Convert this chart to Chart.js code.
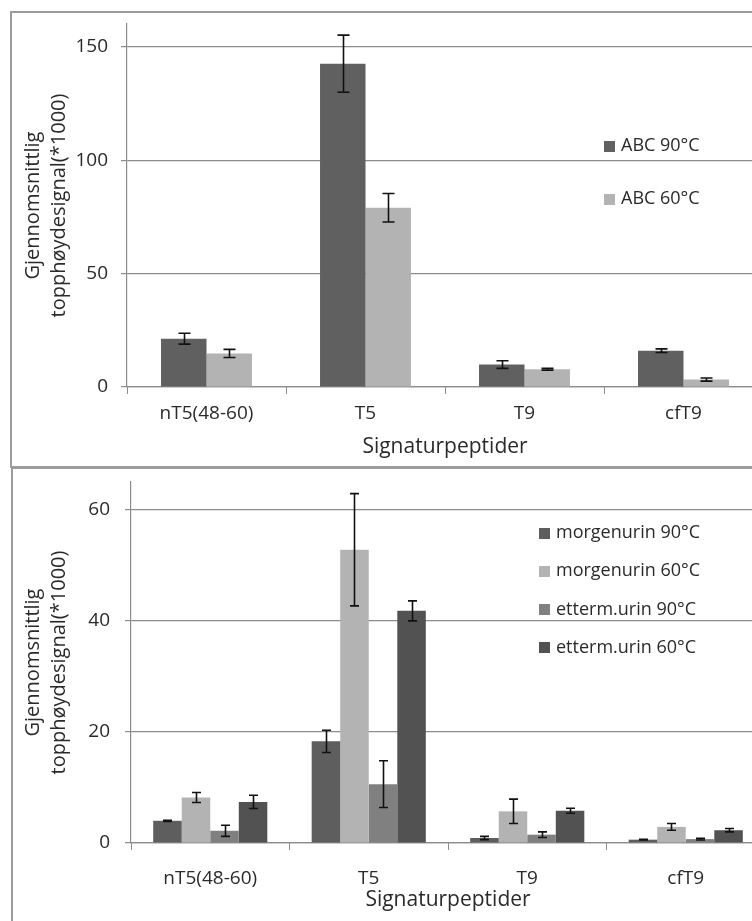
<!DOCTYPE html>
<html>
<head>
<meta charset="utf-8">
<script src="https://cdn.jsdelivr.net/npm/chart.js@4.4.0/dist/chart.umd.min.js"></script>
<style>
  html, body { margin: 0; padding: 0; background: #fff; overflow: hidden; width: 752px; height: 921px; }
  #wrap { position: relative; width: 752px; height: 921px; overflow: hidden; }
  canvas { position: absolute; left: 0; }
  #c1 { top: 0; }
  #c2 { top: 467px; }
  .frame { position: absolute; border: 2px solid #9c9c9c; box-sizing: border-box; pointer-events: none; }
</style>
</head>
<body>
<div id="wrap">
  <canvas id="c1" width="790" height="466"></canvas>
  <canvas id="c2" width="790" height="454"></canvas>
  <div class="frame" style="left:10px;top:11px;width:800px;height:457px"></div>
  <div class="frame" style="left:11px;top:467px;width:800px;height:480px"></div>
</div>
<script>
// Peptides on the category axis
const categories = ['nT5(48-60)', 'T5', 'T9', 'cfT9'];

// Upper panel: ABC buffer, mean peak height (*1000) and standard deviation
const abc90 = [21.3, 142.5, 9.9, 16.0];
const abc90Err = [2.4, 12.6, 1.7, 0.8];
const abc60 = [14.8, 79.0, 7.8, 3.3];
const abc60Err = [1.8, 6.3, 0.4, 0.7];
const upperTicks = [0, 50, 100, 150];

// Lower panel: urine samples
const morgen90 = [4.0, 18.3, 0.9, 0.6];
const morgen90Err = [0.1, 2.0, 0.3, 0.05];
const morgen60 = [8.2, 52.8, 5.7, 2.9];
const morgen60Err = [0.9, 10.1, 2.2, 0.6];
const etterm90 = [2.2, 10.6, 1.5, 0.7];
const etterm90Err = [1.0, 4.2, 0.5, 0.15];
const etterm60 = [7.4, 41.8, 5.8, 2.3];
const etterm60Err = [1.2, 1.8, 0.45, 0.3];
const lowerTicks = [0, 20, 40, 60];

const FONT = "'Open Sans', 'Noto Sans', sans-serif";
const TEXT = '#2a2a2a';
const GRID = '#8c8c8c';

Chart.defaults.font.family = FONT;
Chart.defaults.color = TEXT;

// Standard-deviation whiskers on top of every bar
const errorBars = {
  id: 'errorBars',
  afterDatasetsDraw(chart, args, opts) {
    const ctx = chart.ctx;
    const y = chart.scales.y;
    ctx.save();
    ctx.strokeStyle = opts.color;
    ctx.lineWidth = opts.lineWidth;
    chart.data.datasets.forEach((ds, i) => {
      const meta = chart.getDatasetMeta(i);
      meta.data.forEach((bar, j) => {
        const v = ds.data[j], e = ds.errors[j];
        const x = Math.round(bar.x) + 0.5;
        const yt = y.getPixelForValue(v + e);
        const yb = y.getPixelForValue(Math.max(0, v - e));
        ctx.beginPath();
        ctx.moveTo(x, yt); ctx.lineTo(x, yb);
        ctx.moveTo(x - opts.cap, yt); ctx.lineTo(x + opts.cap, yt);
        ctx.moveTo(x - opts.cap, yb); ctx.lineTo(x + opts.cap, yb);
        ctx.stroke();
      });
    });
    ctx.restore();
  }
};

// Legend placed inside the plot area
const insideLegend = {
  id: 'insideLegend',
  afterDraw(chart, args, opts) {
    const ctx = chart.ctx;
    ctx.save();
    ctx.font = opts.fontSize + 'px ' + FONT;
    ctx.textBaseline = 'middle';
    ctx.textAlign = 'left';
    chart.data.datasets.forEach((ds, i) => {
      const cy = opts.y + i * opts.spacing;
      ctx.fillStyle = ds.backgroundColor;
      ctx.fillRect(opts.x, Math.round(cy - opts.box / 2), opts.box, opts.box);
      ctx.fillStyle = TEXT;
      ctx.fillText(ds.label, opts.x + opts.box + opts.gap, cy);
    });
    ctx.restore();
  }
};

// Scales keep a fixed size and no extra label overhang padding
function fixScale(s, w, h) {
  if (w !== null) s.width = w;
  if (h !== null) s.height = h;
  s.paddingTop = 0; s.paddingBottom = 0; s.paddingLeft = 0; s.paddingRight = 0;
}

function panel(canvasId, datasets, cfg) {
  return new Chart(document.getElementById(canvasId), {
    type: 'bar',
    data: { labels: categories, datasets },
    plugins: [errorBars, insideLegend],
    options: {
      responsive: false,
      animation: false,
      devicePixelRatio: 1,
      layout: { padding: { top: cfg.top, right: cfg.right, left: 0, bottom: 0 } },
      datasets: { bar: { categoryPercentage: cfg.catPct, barPercentage: 1.0, borderWidth: 0 } },
      plugins: {
        legend: { display: false },
        tooltip: { enabled: false },
        errorBars: { color: '#111', lineWidth: 1.6, cap: cfg.cap },
        insideLegend: cfg.legend
      },
      scales: {
        x: {
          grid: { display: true, drawOnChartArea: false, drawTicks: true, tickLength: 7, color: GRID, offset: true },
          border: { display: true, color: GRID, width: 1.2 },
          ticks: { font: { size: 19 }, color: TEXT, padding: cfg.xPad },
          title: { display: true, text: 'Signaturpeptider', font: { size: 21 }, color: TEXT,
                   padding: { top: 0, bottom: cfg.titlePad } },
          afterFit: s => fixScale(s, null, cfg.xHeight)
        },
        y: {
          min: 0, max: cfg.max,
          afterBuildTicks: s => { s.ticks = cfg.ticks.map(v => ({ value: v })); },
          grid: { color: GRID, lineWidth: 1.2, tickLength: 6, drawTicks: true },
          border: { display: true, color: GRID, width: 1.2 },
          ticks: { font: { size: 19 }, color: TEXT, padding: cfg.yPad },
          title: { display: true, text: ['Gjennomsnittlig', 'topphøydesignal(*1000)'],
                   font: { size: 20, lineHeight: 1.3 }, color: TEXT, padding: { top: 20, bottom: 0 } },
          afterFit: s => fixScale(s, cfg.yWidth, null)
        }
      }
    }
  });
}

panel('c1', [
  { label: 'ABC 90°C', data: abc90, errors: abc90Err, backgroundColor: '#606060' },
  { label: 'ABC 60°C', data: abc60, errors: abc60Err, backgroundColor: '#b3b3b3' }
], {
  top: 24, right: 27, catPct: 0.572, cap: 6, max: 160, ticks: upperTicks,
  xHeight: 79, xPad: 8, titlePad: 6, yWidth: 127, yPad: 13,
  legend: { x: 604, y: 146, spacing: 53, box: 11, gap: 6, fontSize: 18 }
});

panel('c2', [
  { label: 'morgenurin 90°C', data: morgen90, errors: morgen90Err, backgroundColor: '#5e5e5e' },
  { label: 'morgenurin 60°C', data: morgen60, errors: morgen60Err, backgroundColor: '#b3b3b3' },
  { label: 'etterm.urin 90°C', data: etterm90, errors: etterm90Err, backgroundColor: '#808080' },
  { label: 'etterm.urin 60°C', data: etterm60, errors: etterm60Err, backgroundColor: '#525252' }
], {
  top: 15, right: 25, catPct: 0.72, cap: 4.5, max: 65, ticks: lowerTicks,
  xHeight: 78, xPad: 17, titlePad: 8, yWidth: 131, yPad: 15,
  legend: { x: 539, y: 66, spacing: 38.3, box: 11, gap: 6, fontSize: 18 }
});
</script>
</body>
</html>
